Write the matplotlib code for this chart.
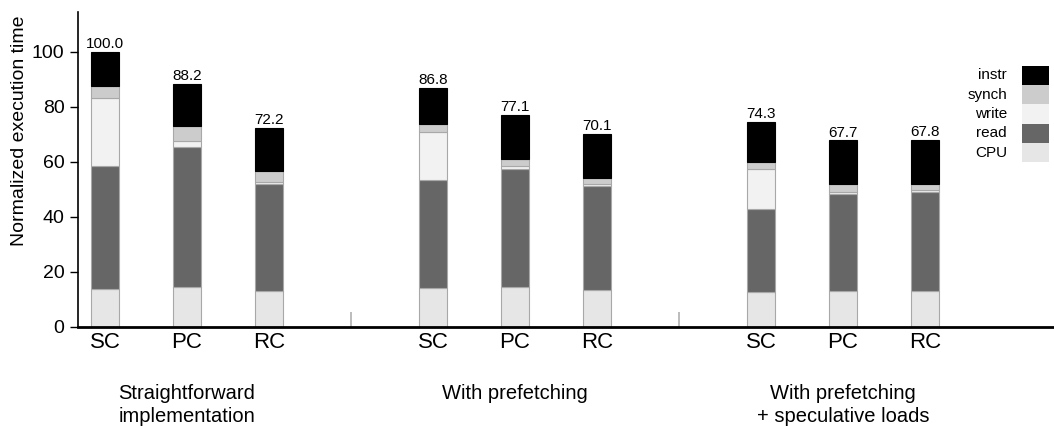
import numpy as np
import matplotlib
matplotlib.use("Agg")
import matplotlib.pyplot as plt
from matplotlib.patches import Rectangle

plt.rcParams["font.family"] = ["Liberation Sans", "DejaVu Sans"]

# ── Data (cumulative tops, converted to segment sizes) ──
models = ["SC", "PC", "RC"]
groups = [["Straightforward", "implementation"], ["With prefetching"],
          ["With prefetching", "+ speculative loads"]]

cpu   = [13.6, 14.3, 13.1,  14.2, 14.3, 13.3,  12.5, 13.0, 13.1]
read  = [44.8, 50.9, 38.9,  39.1, 43.0, 38.0,  30.3, 35.4, 36.0]
write = [24.9,  2.3,  0.6,  17.4,  1.1,  0.6,  14.7,  0.7,  0.6]
synch = [ 4.2,  5.5,  3.9,   3.0,  2.6,  2.3,   2.4,  2.8,  2.2]
total = [100.0, 88.2, 72.2, 86.8, 77.1, 70.1, 74.3, 67.7, 67.8]

SEGMENTS = [("CPU", cpu, "#e6e6e6"), ("read", read, "#666666"),
            ("write", write, "#f2f2f2"), ("synch", synch, "#cccccc")]

# bar positions: 3 per group, with one empty slot between groups
xpos = np.array([0, 1, 2, 4, 5, 6, 8, 9, 10], dtype=float)

W, H = 1054, 426
fig = plt.figure(figsize=(W / 100, H / 100), dpi=100)
ax = fig.add_axes([77.7 / W, 1 - 326.7 / H, 1 - 77.7 / W, (326.7 - 12) / H])

bottom = np.zeros(len(xpos))
legend_items = []
for name, vals, col in SEGMENTS:
    vals = np.array(vals)
    ax.bar(xpos, vals, 0.33, bottom=bottom, color=col,
           edgecolor="#a8a8a8", linewidth=0.8)
    bottom += vals
    legend_items.append((name, col))
instr = np.array(total) - bottom
ax.bar(xpos, instr, 0.33, bottom=bottom, color="black",
       edgecolor="black", linewidth=0.8)
legend_items.append(("instr", "black"))

for x, t in zip(xpos, total):
    ax.text(x, t + 0.3, f"{t:.1f}", ha="center", va="bottom", fontsize=11)

# small separators between groups
ax.vlines([3, 7], 0, 5.5, color="#b0b0b0", linewidth=1.2)

ax.set_xlim(-0.333, (W - 105) / 82)
ax.set_ylim(0, 114.4)
ax.set_yticks(range(0, 101, 20))
ax.set_xticks(xpos)
ax.set_xticklabels(models * 3, fontsize=16)
ax.tick_params(axis="x", length=0, pad=4)
ax.tick_params(axis="y", labelsize=14, length=6, width=1, direction="out")

for side in ["top", "right"]:
    ax.spines[side].set_visible(False)
ax.spines["left"].set_linewidth(1.2)
ax.spines["bottom"].set_linewidth(2)

# group titles, one line at a time (baselines in pixels)
for i, lines in enumerate(groups):
    xc = ax.transData.transform((xpos[3 * i + 1], 0))[0] / W
    for j, line in enumerate(lines):
        fig.text(xc, 1 - (399 + 23 * j) / H, line, ha="center",
                 va="baseline", fontsize=14.5)

fig.text(20 / W, 1 - 131 / H, "Normalized execution time",
         rotation=90, ha="center", va="center", fontsize=14)

# legend: stacked swatches with right-aligned labels to their left
row_h = 19.3
top = 65.7
for k, (name, col) in enumerate(legend_items[::-1]):
    y0 = top + k * row_h
    fig.patches.append(Rectangle((1022 / W, 1 - (y0 + row_h) / H),
                                 27 / W, row_h / H, facecolor=col,
                                 edgecolor="none", transform=fig.transFigure))
    fig.text(1007 / W, 1 - (y0 + row_h / 2) / H, name, ha="right",
             va="center", fontsize=11)

fig.savefig("out.png", dpi=100)
